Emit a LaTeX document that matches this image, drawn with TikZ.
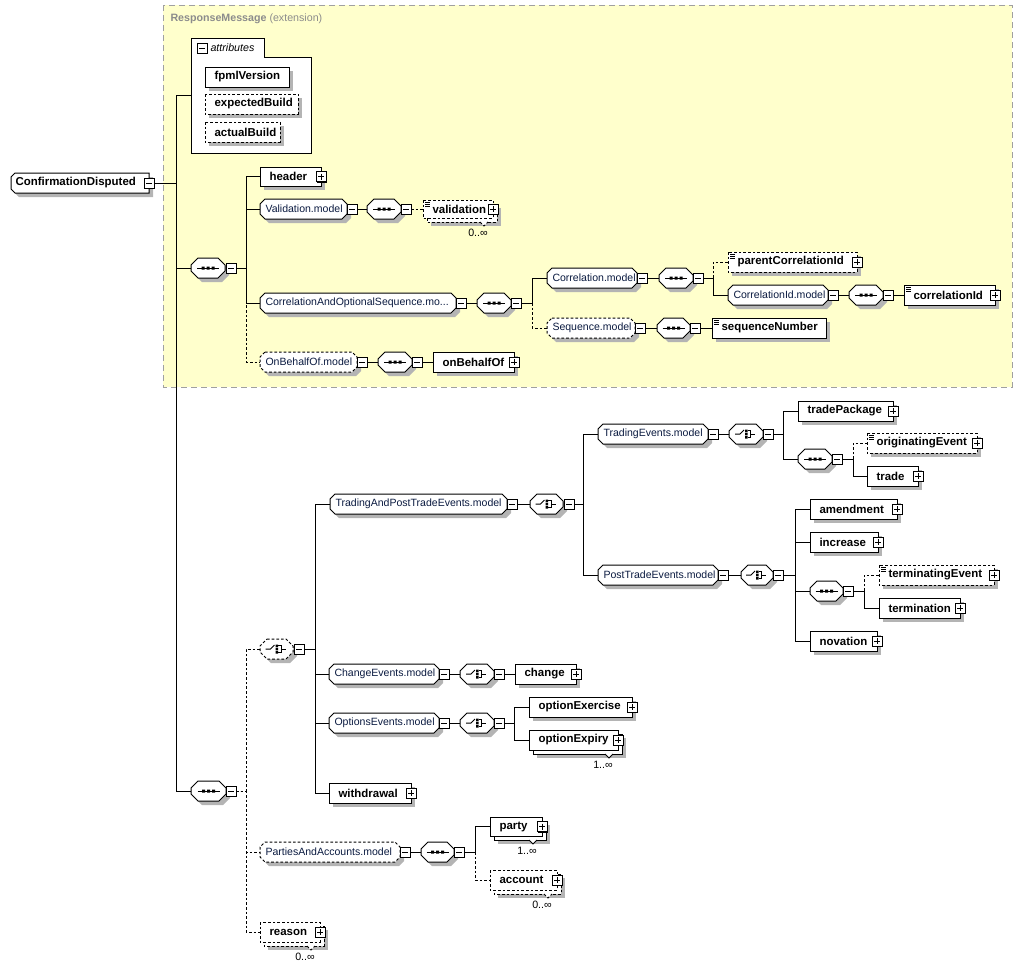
\documentclass[tikz,border=0pt]{standalone}
\usepackage{fontspec}
\setmainfont{Liberation Sans}
\definecolor{bgy}{HTML}{FFFFCC}
\definecolor{shd}{HTML}{B4B4B4}
\definecolor{grpc}{HTML}{0A1A40}
\definecolor{extc}{HTML}{8C8C8C}
\definecolor{bord}{HTML}{A0A0A0}
\tikzset{
  opt/.style={dash pattern=on 2pt off 1.5pt},
  etxt/.style={font=\fontsize{8.6}{10}\selectfont\bfseries, inner sep=0, anchor=west},
  gtxt/.style={font=\fontsize{7.9}{10}\selectfont, text=grpc, inner sep=0, anchor=west},
  ntxt/.style={font=\fontsize{8}{10}\selectfont, inner sep=0},
  anch/.style={inner sep=0, outer sep=0, draw=none, rectangle},
}
\def\oct#1#2#3#4#5{(#1+#5,#2) -- (#3-#5,#2) -- (#3,#2+#5) -- (#3,#4-#5) -- (#3-#5,#4) -- (#1+#5,#4) -- (#1,#4-#5) -- (#1,#2+#5) -- cycle}
\newcommand\anchornode[5]{%
  \pgfmathsetmacro\mymw{(#4-#2)*0.75}\pgfmathsetmacro\mymh{(#5-#3)*0.75}%
  \node[anch, minimum width=\mymw pt, minimum height=\mymh pt] (#1) at ({(#2+#4)/2},{(#3+#5)/2}) {};}
\newcommand\elem[7]{%
  \fill[shd] (#3+4,#4+4) rectangle (#5+4,#6+4);
  \draw[fill=white,#2] (#3,#4) rectangle (#5,#6);
  \anchornode{#1}{#3}{#4}{#5}{#6}
  \node[etxt] (#1-t) at ({#3+9},{(#4+#6)/2}) {#7};}
\newcommand\melem[8]{%
  \fill[shd] (#3+8,#4+8) rectangle (#5+8,#6+8);
  \draw[fill=white,#2] (#3+4,#4+4) rectangle (#5+4,#6+4);
  \draw[fill=white,#2] (#3,#4) rectangle (#5,#6);
  \draw[fill=white,#2] (#5-13,#6+4) -- (#5-9,#6+8) -- (#5-5,#6+4);
  \anchornode{#1}{#3}{#4}{#5}{#6}
  \node[etxt] (#1-t) at ({#3+9},{(#4+#6)/2}) {#7};
  \node[ntxt] (#1-m) at ({#5-15},{#6+15}) {#8};}
\newcommand\grp[7]{%
  \fill[shd] \oct{#3+4}{#4+4}{#5+4}{#6+4}{5};
  \draw[fill=white,#2] \oct{#3}{#4}{#5}{#6}{5};
  \anchornode{#1}{#3}{#4}{#5}{#6}
  \node[gtxt] (#1-t) at ({#3+5},{(#4+#6)/2}) {#7};}
\newcommand\seqc[6]{%
  \fill[shd] \oct{#3+4}{#4+4}{#5+4}{#6+4}{7};
  \draw[fill=white,#2] \oct{#3}{#4}{#5}{#6}{7};
  \anchornode{#1}{#3}{#4}{#5}{#6}
  \pgfmathsetmacro\cxx{(#3+#5)/2}\pgfmathsetmacro\cyy{(#4+#6)/2}%
  \draw (\cxx-11,\cyy) -- (\cxx+11,\cyy);
  \fill (\cxx-6.5,\cyy-1.5) rectangle ++(3,3) (\cxx-1.5,\cyy-1.5) rectangle ++(3,3) (\cxx+3.5,\cyy-1.5) rectangle ++(3,3);}
\newcommand\chc[6]{%
  \fill[shd] \oct{#3+4}{#4+4}{#5+4}{#6+4}{7};
  \draw[fill=white,#2] \oct{#3}{#4}{#5}{#6}{7};
  \anchornode{#1}{#3}{#4}{#5}{#6}
  \pgfmathsetmacro\cxx{(#3+#5)/2}\pgfmathsetmacro\cyy{(#4+#6)/2}%
  \draw (\cxx-11,\cyy) -- (\cxx-6,\cyy) -- (\cxx-2,\cyy-4);
  \fill (\cxx-1,\cyy-4.5) rectangle ++(2.5,2.5) (\cxx-1,\cyy-1.25) rectangle ++(2.5,2.5) (\cxx-1,\cyy+2) rectangle ++(2.5,2.5);
  \draw (\cxx+1.5,\cyy-3.5) -- (\cxx+4.5,\cyy-3.5) -- (\cxx+4.5,\cyy+3.5) -- (\cxx+1.5,\cyy+3.5) (\cxx+4.5,\cyy) -- (\cxx+9,\cyy);}
\newcommand\mbx[3]{%
  \fill (#2-4,#3-4) rectangle (#2+6,#3+6);
  \draw[fill=white] (#2-5,#3-5) rectangle (#2+5,#3+5);
  \draw (#2-3,#3) -- (#2+3,#3);
  \node[anch, minimum size=7.5pt] (#1) at (#2,#3) {};}
\newcommand\pbx[3]{%
  \mbx{#1}{#2}{#3}
  \draw (#2,#3-3) -- (#2,#3+3);}
\newcommand\simp[2]{\draw[line width=0.6pt] (#1+2,#2+2.5) -- ++(5,0) (#1+2,#2+4.5) -- ++(5,0) (#1+2,#2+6.5) -- ++(5,0);}
\newcommand\conn[4][]{%
  \draw (#2.east) -- ++(#4,0);
  \draw[#1] (#2.east) ++(#4,0) |- (#3.west);}
\newcommand\connd[3]{%
  \draw[opt] (#1.east) -- ++(#3,0) |- (#2.west);}
\begin{document}
\begin{tikzpicture}[x=0.75pt,y=-0.75pt,line width=0.75pt]
\useasboundingbox (0,0) rectangle (1023,968);
% extension background
\fill[bgy] (163,5) rectangle (1012,387);
\draw[bord, dash pattern=on 4.5pt off 3pt] (163,5) rectangle (1012,387);
\node[ntxt, anchor=west, text=extc] (extlbl) at (170,19) {\textbf{ResponseMessage} (extension)};
% root
\fill[shd] (19,177) -- (153,177) -- (153,197) -- (19,197) -- (15,193) -- (15,181) -- cycle;
\draw[fill=white] (15,173) -- (149,173) -- (149,193) -- (15,193) -- (11,189) -- (11,177) -- cycle;
\anchornode{CD}{11}{173}{149}{193}
\node[etxt] (CD-t) at (15,183) {ConfirmationDisputed};
\mbx{CDm}{149}{183}
% attributes
\draw[fill=white] (191,38) -- (264,38) -- (264,57) -- (311,57) -- (311,153) -- (191,153) -- cycle;
\anchornode{attr}{191}{38}{311}{153}
\mbx{attrm}{202}{48}
\node[ntxt, anchor=west, font=\fontsize{8}{10}\selectfont\itshape] (attr-t) at (210,48) {attributes};
\elem{fpml}{solid}{205}{67}{289}{87}{fpmlVersion}
\elem{expb}{opt}{205}{94}{298}{114}{expectedBuild}
\elem{actb}{opt}{205}{122}{280}{142}{actualBuild}
% upper sequence
\seqc{seqA}{solid}{191}{258}{225}{278}
\mbx{seqAm}{231}{268}
\elem{header}{solid}{260}{167}{321}{186}{header}
\pbx{headerp}{321}{176.5}
\grp{valm}{solid}{260}{199}{347}{219}{Validation.model}
\mbx{valmm}{352}{209}
\seqc{seq2}{solid}{367}{199}{401}{219}
\mbx{seq2m}{406}{209}
\melem{valid}{opt}{423}{200}{493}{218}{validation}{0..∞}
\simp{423}{200}
\pbx{validp}{493}{209}
\grp{corr}{solid}{260}{293}{456}{313}{CorrelationAndOptionalSequence.mo...}
\mbx{corrm}{461}{303}
\seqc{seq3}{solid}{477}{293}{511}{313}
\mbx{seq3m}{516}{303}
\grp{corrmod}{solid}{547}{268}{637}{288}{Correlation.model}
\mbx{corrmodm}{642}{278}
\seqc{seq4}{solid}{659}{268}{693}{288}
\mbx{seq4m}{698}{278}
\elem{pcid}{opt}{728}{252}{857}{272}{parentCorrelationId}
\simp{728}{252}
\pbx{pcidp}{857}{262}
\grp{cidm}{solid}{728}{285}{828}{305}{CorrelationId.model}
\mbx{cidmm}{833}{295}
\seqc{seq5}{solid}{849}{285}{883}{305}
\mbx{seq5m}{888}{295}
\elem{cid}{solid}{904}{285}{995}{305}{correlationId}
\simp{904}{285}
\pbx{cidp}{995}{295}
\grp{seqmod}{opt}{547}{318}{635}{338}{Sequence.model}
\mbx{seqmodm}{640}{328}
\seqc{seq6}{solid}{657}{318}{690}{338}
\mbx{seq6m}{695}{328}
\elem{seqnum}{solid}{712}{318}{826}{338}{sequenceNumber}
\simp{712}{318}
\grp{obo}{opt}{260}{352}{357}{372}{OnBehalfOf.model}
\mbx{obom}{362}{362}
\seqc{seq7}{solid}{378}{352}{412}{372}
\mbx{seq7m}{417}{362}
\elem{onbeh}{solid}{433}{352}{514}{372}{onBehalfOf}
\pbx{onbehp}{514}{362}
% lower sequence
\seqc{seqB}{solid}{191}{781}{226}{801}
\mbx{seqBm}{231}{791}
\chc{ch1}{opt}{260}{639}{293}{659}
\mbx{ch1m}{299}{649}
\grp{tpt}{solid}{330}{494}{507}{514}{TradingAndPostTradeEvents.model}
\mbx{tptm}{512}{504}
\chc{ch2}{solid}{530}{494}{563}{514}
\mbx{ch2m}{569}{504}
\grp{te}{solid}{598}{424}{708}{444}{TradingEvents.model}
\mbx{tem}{713}{434}
\chc{ch3}{solid}{729}{424}{763}{444}
\mbx{ch3m}{768}{434}
\elem{tpkg}{solid}{798}{401}{893}{421}{tradePackage}
\pbx{tpkgp}{893}{411}
\seqc{seq9}{solid}{798}{449}{832}{469}
\mbx{seq9m}{837}{459}
\elem{orig}{opt}{867}{433}{977}{453}{originatingEvent}
\simp{867}{433}
\pbx{origp}{977}{443}
\elem{trade}{solid}{867}{466}{918}{486}{trade}
\pbx{tradep}{918}{476}
\grp{pte}{solid}{598}{565}{718}{585}{PostTradeEvents.model}
\mbx{ptem}{723}{575}
\chc{ch4}{solid}{741}{565}{773}{585}
\mbx{ch4m}{778}{575}
\elem{amend}{solid}{810}{499}{897}{519}{amendment}
\pbx{amendp}{897}{509}
\elem{incr}{solid}{810}{532}{878}{552}{increase}
\pbx{incrp}{878}{542}
\seqc{seq10}{solid}{810}{581}{843}{601}
\mbx{seq10m}{848}{591}
\elem{termev}{opt}{879}{565}{994}{585}{terminatingEvent}
\simp{879}{565}
\pbx{termevp}{994}{575}
\elem{term}{solid}{879}{598}{960}{618}{termination}
\pbx{termp}{960}{608}
\elem{nov}{solid}{810}{631}{877}{651}{novation}
\pbx{novp}{877}{641}
\grp{ce}{solid}{329}{664}{439}{684}{ChangeEvents.model}
\mbx{cem}{444}{674}
\chc{ch5}{solid}{460}{664}{494}{684}
\mbx{ch5m}{499}{674}
\elem{chg}{solid}{515}{664}{576}{684}{change}
\pbx{chgp}{576}{674}
\grp{oe}{solid}{329}{713}{439}{733}{OptionsEvents.model}
\mbx{oem}{444}{723}
\chc{ch6}{solid}{460}{713}{494}{733}
\mbx{ch6m}{499}{723}
\elem{oexe}{solid}{529}{697}{632}{717}{optionExercise}
\pbx{oexep}{632}{707}
\melem{oexy}{solid}{529}{730}{618}{750}{optionExpiry}{1..∞}
\pbx{oexyp}{618}{740}
\elem{withd}{solid}{329}{783}{411}{803}{withdrawal}
\pbx{withdp}{411}{793}
\grp{pa}{opt}{260}{842}{400}{862}{PartiesAndAccounts.model}
\mbx{pam}{405}{852}
\seqc{seq11}{solid}{421}{842}{454}{862}
\mbx{seq11m}{459}{852}
\melem{party}{solid}{490}{817}{542}{836}{party}{1..∞}
\pbx{partyp}{542}{826.5}
\melem{acct}{opt}{490}{870}{557}{890}{account}{0..∞}
\pbx{acctp}{557}{880}
\melem{reason}{opt}{260}{922}{320}{942}{reason}{0..∞}
\pbx{reasonp}{320}{932}
% connectors
\conn{CDm}{attr}{22}
\conn{CDm}{seqA}{22}
\conn{CDm}{seqB}{22}
\conn{seqAm}{header}{10}
\conn{seqAm}{valm}{10}
\conn{seqAm}{corr}{10}
\conn[opt]{seqAm}{obo}{10}
\draw (valmm.east) -- (seq2.west);
\draw[opt] (seq2m.east) -- (valid.west);
\draw (corrm.east) -- (seq3.west);
\conn{seq3m}{corrmod}{11}
\conn[opt]{seq3m}{seqmod}{11}
\draw (corrmodm.east) -- (seq4.west);
\conn[opt]{seq4m}{pcid}{10}
\conn{seq4m}{cidm}{10}
\draw (cidmm.east) -- (seq5.west);
\draw (seq5m.east) -- (cid.west);
\draw (seqmodm.east) -- (seq6.west);
\draw (seq6m.east) -- (seqnum.west);
\draw (obom.east) -- (seq7.west);
\draw (seq7m.east) -- (onbeh.west);
\connd{seqBm}{ch1}{10}
\connd{seqBm}{pa}{10}
\connd{seqBm}{reason}{10}
\conn{ch1m}{tpt}{11}
\conn{ch1m}{ce}{11}
\conn{ch1m}{oe}{11}
\conn{ch1m}{withd}{11}
\draw (tptm.east) -- (ch2.west);
\conn{ch2m}{te}{9}
\conn{ch2m}{pte}{9}
\draw (tem.east) -- (ch3.west);
\conn{ch3m}{tpkg}{10}
\conn{ch3m}{seq9}{10}
\conn[opt]{seq9m}{orig}{11}
\conn{seq9m}{trade}{11}
\draw (ptem.east) -- (ch4.west);
\conn{ch4m}{amend}{12}
\conn{ch4m}{incr}{12}
\conn{ch4m}{seq10}{12}
\conn{ch4m}{nov}{12}
\conn[opt]{seq10m}{termev}{11}
\conn{seq10m}{term}{11}
\draw (cem.east) -- (ch5.west);
\draw (ch5m.east) -- (chg.west);
\draw (oem.east) -- (ch6.west);
\conn{ch6m}{oexe}{10}
\conn{ch6m}{oexy}{10}
\draw (pam.east) -- (seq11.west);
\conn{seq11m}{party}{11}
\conn[opt]{seq11m}{acct}{11}
\end{tikzpicture}
\end{document}
